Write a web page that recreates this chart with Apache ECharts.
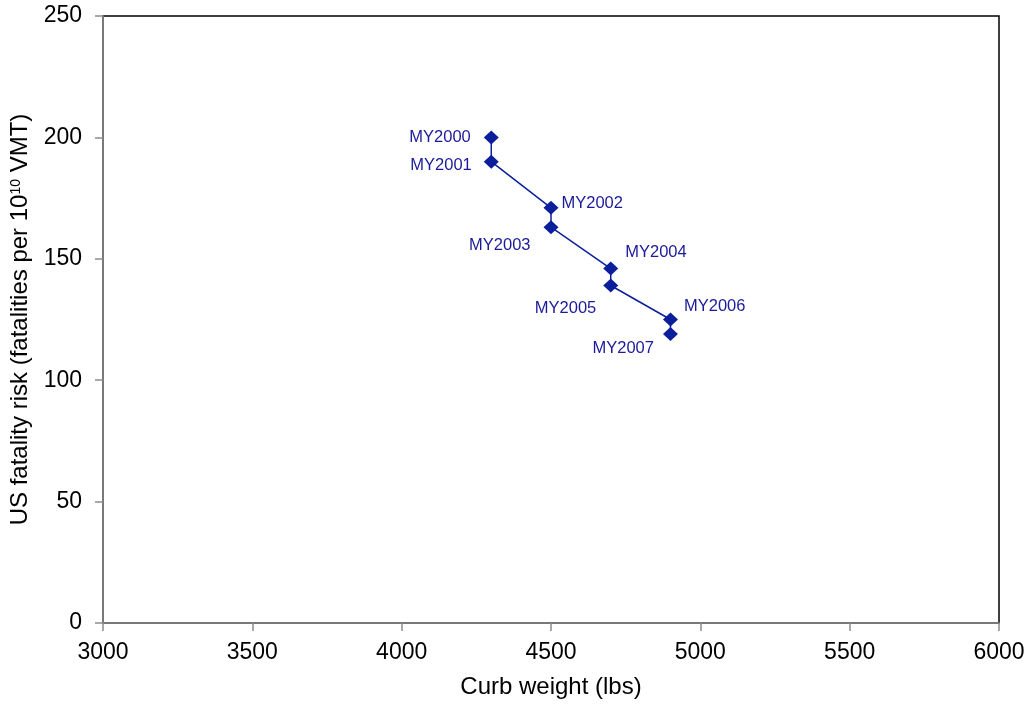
<!DOCTYPE html>
<html>
<head>
<meta charset="utf-8">
<script src="https://cdn.jsdelivr.net/npm/echarts@6/dist/echarts.min.js"></script>
<style>
  html, body { margin: 0; padding: 0; background: #fff; }
  #chart { width: 1029px; height: 704px; }
</style>
</head>
<body>
<div id="chart"></div>
<script>
	var chart = echarts.init(document.getElementById('chart'));
	// model years
	let years = ['MY2000','MY2001','MY2002','MY2003','MY2004','MY2005','MY2006','MY2007'];
	// curb weight (lbs)
	let weight = [4300,4300,4500,4500,4700,4700,4900,4900];
	// fatality risk
	let risk = [200,190,171,163,146,139,125,119];
	let xTicks = [3000,3500,4000,4500,5000,5500,6000];
	let yTicks = [0,50,100,150,200,250];

	// label placement: left / right with offset [dx, dy]
	let labelPos = [
		['left', [-13, 0]],
		['left', [-12, 4]],
		['right', [3, -4]],
		['left', [-13, 18]],
		['right', [7, -16]],
		['left', [-7, 23]],
		['right', [6, -13]],
		['left', [-9, 14]]
	];

	let pts = [];
	for (var i = 0; i < years.length; i++) {
		pts.push({
			name: years[i],
			value: [weight[i], risk[i]],
			label: {
				position: labelPos[i][0],
				offset: labelPos[i][1]
			}
		});
	}

	let font = 'Liberation Sans';
	let option = {
		animation: false,
		grid: {
			left: 103,
			right: 30,
			top: 16,
			bottom: 80,
			show: true,
			borderColor: '#000',
			borderWidth: 1.5
		},
		xAxis: {
			type: 'value',
			min: xTicks[0],
			max: xTicks[xTicks.length - 1],
			interval: 500,
			name: 'Curb weight (lbs)',
			nameLocation: 'middle',
			nameGap: 52,
			nameTextStyle: { color: '#000', fontSize: 24, fontFamily: font },
			axisLine: { show: true, lineStyle: { color: '#8c8c8c', width: 1.5 } },
			axisTick: { show: true, length: 8, lineStyle: { color: '#8c8c8c', width: 1.5 } },
			axisLabel: {
				color: '#000', fontSize: 23, margin: 18, fontFamily: font,
				formatter: function(v) { return String(v); }
			},
			splitLine: { show: false }
		},
		yAxis: {
			type: 'value',
			min: yTicks[0],
			max: yTicks[yTicks.length - 1],
			interval: 50,
			name: '{t|US fatality risk (fatalities per 10}{s|10}{t| VMT)}',
			nameLocation: 'middle',
			nameGap: 64,
			nameTextStyle: {
				rich: {
					t: { color: '#000', fontSize: 24, fontFamily: font },
					s: { color: '#000', fontSize: 14, fontFamily: font, verticalAlign: 'top', padding: [0, 0, 10, 0] }
				}
			},
			axisLine: { show: true, lineStyle: { color: '#8c8c8c', width: 1.5 } },
			axisTick: { show: true, length: 8, lineStyle: { color: '#8c8c8c', width: 1.5 } },
			axisLabel: {
				color: '#000', fontSize: 23, margin: 21, fontFamily: font,
				formatter: function(v) { return String(v); }
			},
			splitLine: { show: false }
		},
		series: [{
			type: 'line',
			data: pts,
			symbol: 'diamond',
			symbolSize: [15, 14],
			lineStyle: { color: '#0b1f9c', width: 1.5 },
			itemStyle: { color: '#0b1f9c' },
			label: {
				show: true,
				formatter: '{b}',
				distance: 0,
				color: '#1a1a9a',
				fontSize: 16.5,
				fontFamily: font
			}
		}]
	};
	chart.setOption(option);
</script>
</body>
</html>
